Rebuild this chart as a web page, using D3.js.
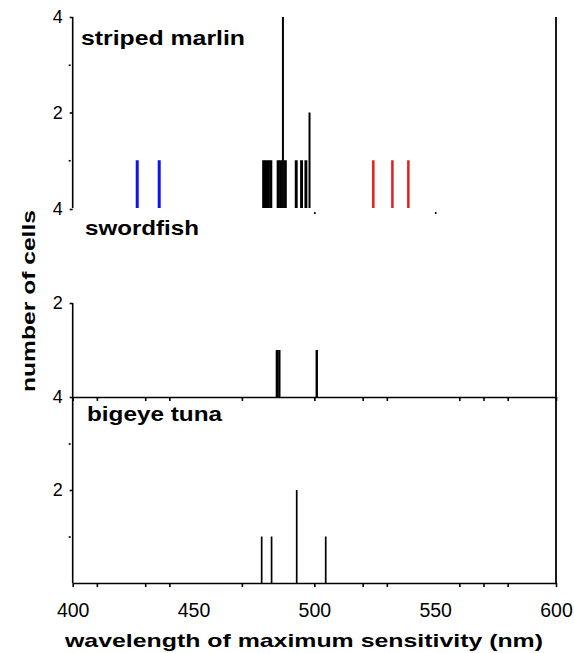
<!DOCTYPE html>
<html><head><meta charset="utf-8">
<script src="https://cdn.jsdelivr.net/npm/d3@7"></script>
<style>
html,body{margin:0;padding:0;background:#fff;}
svg{display:block;font-family:"Liberation Sans",Arial,sans-serif;}
</style>
</head><body>
<svg id="chart" width="574" height="653"></svg>
<script>
// ---- data ----
const species = ["striped marlin", "swordfish", "bigeye tuna"];
const marlinBlueWl = [426.7, 435.8];
const marlinBlueN = [1, 1];
const marlinBlackWl = [479, 480, 481, 482, 485, 486, 487, 488, 492.5, 494.7, 496.5, 498];
const marlinBlackN = [1, 1, 1, 1, 1, 1, 4, 1, 1, 1, 1, 2];
const marlinRedWl = [524.4, 532.3, 538.9];
const marlinRedN = [1, 1, 1];
const swordfishWl = [484.5, 485.5, 501];
const swordfishN = [1, 1, 1];
const tunaWl = [478.2, 482.3, 492.7, 504.7];
const tunaN = [1, 1, 2, 1];
const xTickValues = [400, 410, 430, 440, 470, 500, 520, 530, 560, 570, 580, 600];
const xLabelValues = [400, 450, 500, 550, 600];
const marlinBaseTicks = [500, 550];
const yLabelValues = [4, 2];
const yMinorValues = [3, 1];
const xTitle = "wavelength of maximum sensitivity (nm)";
const yTitle = "number of cells";

// ---- layout ----
const svg = d3.select("#chart");
const x = d3.scaleLinear().domain([400, 600]).range([72.7, 556]);
const panels = [
  {name: species[0], top: 17, bottom: 208, tx: 81, ty: 45, tl: 164},
  {name: species[1], top: 209, bottom: 397, tx: 85, ty: 235, tl: 114},
  {name: species[2], top: 397, bottom: 583, tx: 87, ty: 421, tl: 135}
];
panels.forEach(p => { p.y = d3.scaleLinear().domain([0, 4]).range([p.bottom, p.top]); });

function bars(panel, wl, n, color, width) {
  svg.append("g").selectAll("line")
    .data(wl.map((w, i) => ({w, n: n[i]})))
    .join("line")
    .attr("x1", d => x(d.w)).attr("x2", d => x(d.w))
    .attr("y1", panel.y(0)).attr("y2", d => panel.y(d.n))
    .attr("stroke", color).attr("stroke-width", d => d.n > 1 ? Math.min(width, 2) : width);
}

// bars
bars(panels[0], marlinBlueWl, marlinBlueN, "#1212ee", 3);
bars(panels[0], marlinBlackWl, marlinBlackN, "#000", 2.9);
bars(panels[0], marlinRedWl, marlinRedN, "#e81c1c", 2.5);
bars(panels[1], swordfishWl, swordfishN, "#000", 2.4);
bars(panels[2], tunaWl, tunaN, "#000", 1.7);

// y axes
function styleAxis(g) {
  g.selectAll("path,line").attr("stroke", "#000").attr("stroke-width", 1.6);
  g.selectAll("text").attr("fill", "#000").attr("font-size", 18).attr("font-family", "Liberation Sans, Arial, sans-serif");
}
panels.forEach((p, i) => {
  const g = svg.append("g").attr("transform", `translate(${x(400)},0)`);
  g.call(d3.axisLeft(p.y).tickValues(yLabelValues).tickSize(3).tickPadding(7).tickFormat(d3.format("d")));
  g.select(".domain").remove();
  styleAxis(g);
  // axis line (swordfish panel only from 2 down to 0)
  const yTopVal = i === 1 ? 2 : 4;
  svg.append("line").attr("x1", x(400)).attr("x2", x(400))
    .attr("y1", p.y(yTopVal)).attr("y2", p.y(0))
    .attr("stroke", "#000").attr("stroke-width", 1.6);
  if (i !== 1) {
    const m = svg.append("g").attr("transform", `translate(${x(400) - 2},0)`);
    m.call(d3.axisLeft(p.y).tickValues(yMinorValues).tickSize(2).tickFormat(""));
    m.select(".domain").remove();
    styleAxis(m);
  }
  svg.append("text").attr("x", p.tx).attr("y", p.ty)
    .attr("font-size", 20).attr("font-weight", "bold")
    .attr("textLength", p.tl).attr("lengthAdjust", "spacingAndGlyphs")
    .text(p.name);
});

// marlin baseline tick marks (no axis line)
{
  const g = svg.append("g").attr("transform", `translate(0,${panels[0].bottom + 4})`);
  g.call(d3.axisBottom(x).tickValues(marlinBaseTicks).tickSize(2).tickFormat(""));
  g.select(".domain").remove();
  styleAxis(g);
}
// swordfish & tuna x axes
[1, 2].forEach(i => {
  const g = svg.append("g").attr("transform", `translate(0,${panels[i].bottom})`);
  g.call(d3.axisBottom(x).tickValues(xTickValues).tickSize(4).tickSizeOuter(0).tickFormat(""));
  styleAxis(g);
});
{
  const g = svg.append("g").attr("transform", `translate(0,${panels[2].bottom})`);
  g.call(d3.axisBottom(x).tickValues(xLabelValues).tickSize(0).tickPadding(20).tickFormat(d3.format("d")));
  g.select(".domain").remove();
  styleAxis(g);
  g.selectAll("text").attr("font-size", 19.5);
}
// right frame
svg.append("line").attr("x1", x(600)).attr("x2", x(600))
  .attr("y1", panels[0].top).attr("y2", panels[2].bottom)
  .attr("stroke", "#000").attr("stroke-width", 1.8);

// axis titles
svg.append("text").attr("x", 304).attr("y", 647).attr("text-anchor", "middle")
  .attr("font-size", 19).attr("font-weight", "bold")
  .attr("textLength", 478).attr("lengthAdjust", "spacingAndGlyphs").text(xTitle);
svg.append("text").attr("transform", "translate(35,301) rotate(-90)").attr("text-anchor", "middle")
  .attr("font-size", 19).attr("font-weight", "bold")
  .attr("textLength", 182).attr("lengthAdjust", "spacingAndGlyphs").text(yTitle);
</script>
</body></html>
